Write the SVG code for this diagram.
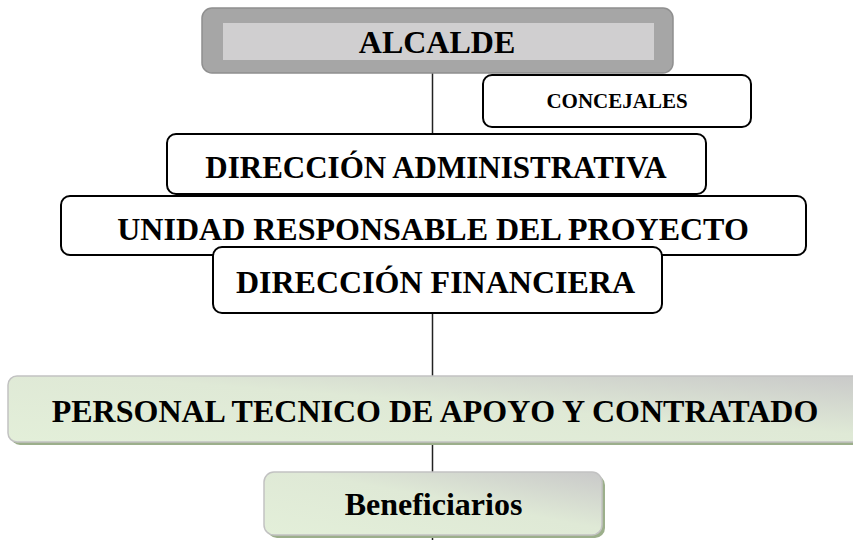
<svg xmlns="http://www.w3.org/2000/svg" width="853" height="540" viewBox="0 0 853 540">
<defs>
<linearGradient id="g" x1="0" y1="1" x2="1" y2="0">
<stop offset="0" stop-color="#e3efd9"/>
<stop offset="0.55" stop-color="#dfe9d6"/>
<stop offset="1" stop-color="#c9c9c9"/>
</linearGradient>
<style>
text{font-family:"Liberation Serif","Times New Roman",serif;font-weight:bold;fill:#000;text-anchor:middle}
.w{fill:#fff;stroke:#000;stroke-width:2}
.gr{fill:url(#g);stroke:#c2c2c2;stroke-width:1.5}
.sh{fill:#9caf8b}
.big{font-size:32px}
</style>
</defs>
<rect width="853" height="540" fill="#fff"/>
<g id="connectors">
<line x1="432.5" y1="73" x2="432.5" y2="540" stroke="#222" stroke-width="1.5"/>
</g>
<g id="alcalde">
<rect x="202" y="8" width="471" height="65" rx="10" fill="#a6a6a6" stroke="#8f8f8f" stroke-width="1.5"/>
<rect x="223" y="23" width="431" height="37" fill="#d0cfd0"/>
<text x="437" y="53" class="big">ALCALDE</text>
</g>
<g id="concejales">
<rect x="483" y="75" width="268" height="52" rx="9" class="w"/>
<text x="617" y="108" font-size="21">CONCEJALES</text>
</g>
<g id="direccion-administrativa">
<rect x="167" y="134" width="539" height="60" rx="9" class="w"/>
<text x="436" y="178" font-size="31">DIRECCIÓN ADMINISTRATIVA</text>
</g>
<g id="unidad-responsable">
<rect x="61" y="196" width="745" height="59" rx="9" class="w"/>
<text x="433" y="240" class="big">UNIDAD RESPONSABLE DEL PROYECTO</text>
</g>
<g id="direccion-financiera">
<rect x="213" y="247" width="449" height="66" rx="9" class="w"/>
<text x="435.5" y="293" class="big">DIRECCIÓN FINANCIERA</text>
</g>
<g id="personal">
<rect x="11" y="379" width="860" height="66" rx="9" class="sh"/>
<rect x="8" y="376" width="860" height="66" rx="9" class="gr"/>
<text x="435" y="422" class="big">PERSONAL TECNICO DE APOYO Y CONTRATADO</text>
</g>
<g id="beneficiarios">
<rect x="267" y="475" width="338" height="63" rx="10" class="sh"/>
<rect x="264" y="472" width="338" height="63" rx="10" class="gr"/>
<text x="433.5" y="515" class="big">Beneficiarios</text>
</g>
</svg>
